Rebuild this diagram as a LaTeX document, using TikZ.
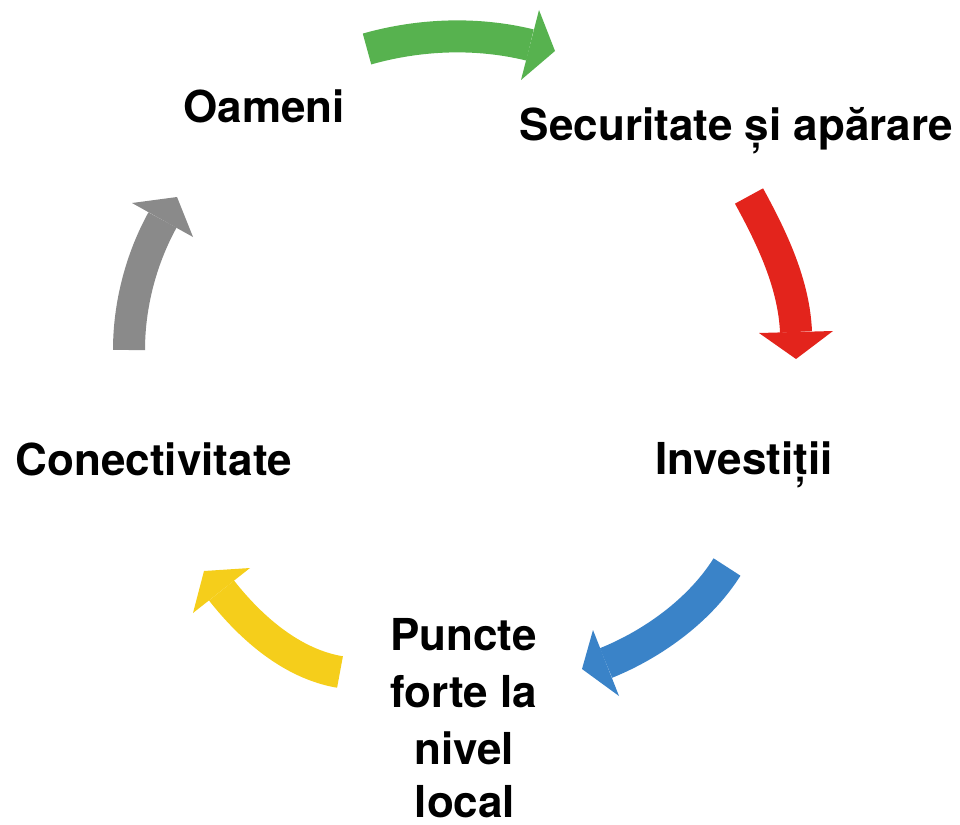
\documentclass[tikz,border=0pt]{standalone}
\usepackage{fontspec}
\setmainfont{TeX Gyre Heros}
\definecolor{cgreen}{HTML}{57B24F}
\definecolor{cred}{HTML}{E3241C}
\definecolor{cblue}{HTML}{3A83C8}
\definecolor{cyellow}{HTML}{F5CE1B}
\definecolor{cgray}{HTML}{8A8A8A}
\tikzset{
  lbl/.style={font=\fontsize{44}{58}\selectfont\bfseries, text=black, inner sep=0pt, anchor=base},
  body/.style={line width=32pt, line cap=butt}
}
\begin{document}
\begin{tikzpicture}[x=1pt,y=-1pt]
\useasboundingbox (0,0) rectangle (960,824);
% green
\draw[body, cgreen] (367,49) .. controls (420,34) and (477,32) .. (530,45);
\fill[cgreen] (521,80) -- (555,51) -- (539,10) -- cycle;
% red
\draw[body, cred] (749,196) .. controls (772,238) and (794,284) .. (796,332);
\fill[cred] (759,333) -- (796,359) -- (833,331) -- cycle;
% blue
\draw[body, cblue] (727,567) .. controls (700,610) and (653,644) .. (606,663);
\fill[cblue] (619,696) -- (582,669) -- (593,630) -- cycle;
% yellow
\draw[body, cyellow] (340,672) .. controls (292,664) and (251,628) .. (221.5,590.5);
\fill[cyellow] (250,568) -- (204,571) -- (193,613) -- cycle;
% gray
\draw[body, cgray] (129,350) .. controls (129,305) and (141,259) .. (162.5,220);
\fill[cgray] (132,203) -- (177,197) -- (193,237) -- cycle;
% labels
\node[lbl] (oameni) at (264,123) {Oameni};
\node[lbl] (secur) at (736.5,140) {Securitate și apărare};
\node[lbl] (invest) at (744,474) {Investiții};
\node[lbl] (conect) at (154,475) {Conectivitate};
\node[lbl] (puncte1) at (463.5,650) {Puncte};
\node[lbl] (puncte2) at (463.5,707) {forte la};
\node[lbl] (puncte3) at (464,764) {nivel};
\node[lbl] (puncte4) at (465,817) {local};
\end{tikzpicture}
\end{document}
